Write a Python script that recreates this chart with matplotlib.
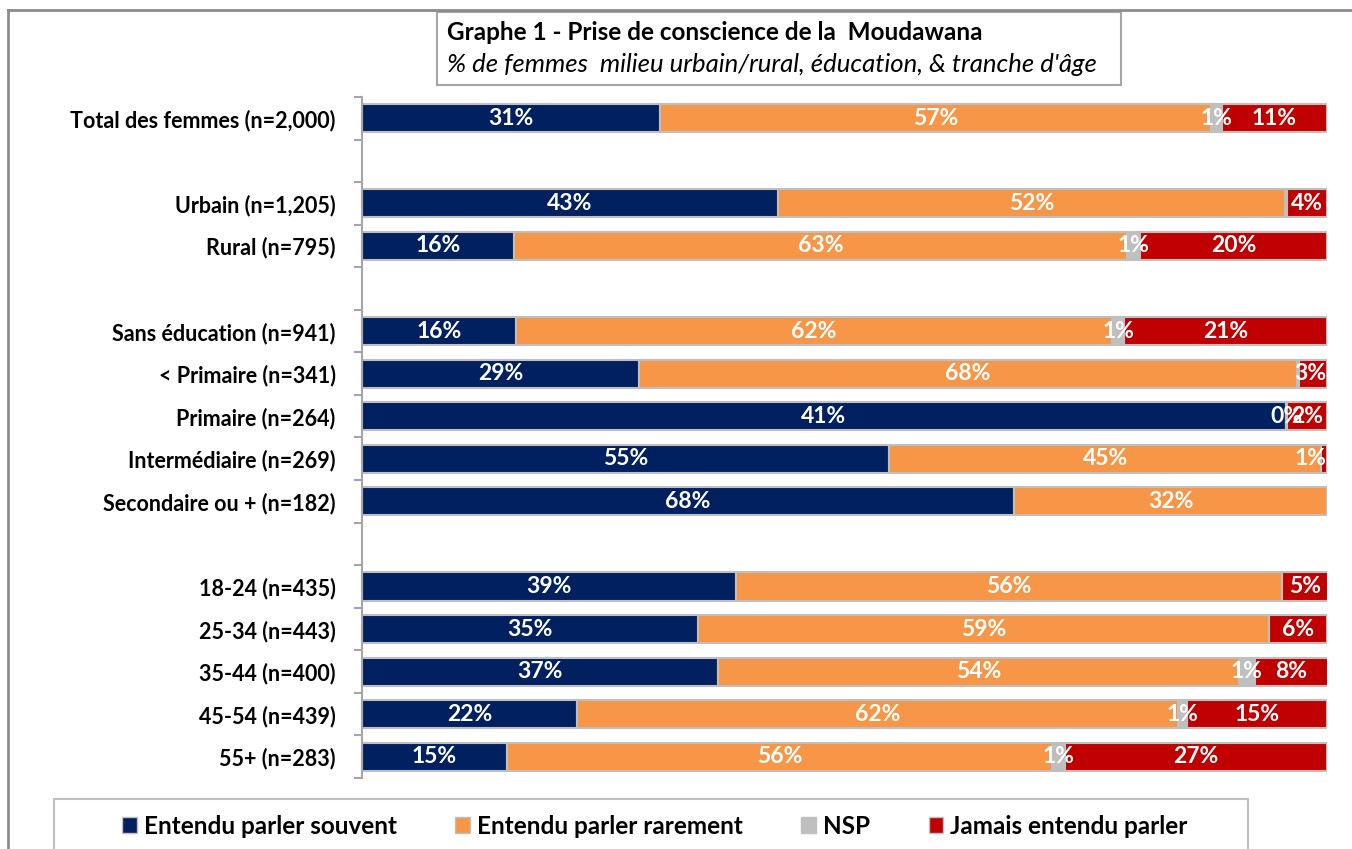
import matplotlib
matplotlib.use("Agg")
import matplotlib.pyplot as plt
from matplotlib.patches import Rectangle
from matplotlib.lines import Line2D

plt.rcParams['font.family'] = ['Lato', 'DejaVu Sans']

# row labels and the slot (0 = top) each one sits in; empty slots are spacers
categories = ["Total des femmes (n=2,000)",
              "Urbain (n=1,205)", "Rural (n=795)",
              "Sans éducation (n=941)", "< Primaire (n=341)", "Primaire (n=264)",
              "Intermédiaire (n=269)", "Secondaire ou + (n=182)",
              "18-24 (n=435)", "25-34 (n=443)", "35-44 (n=400)", "45-54 (n=439)", "55+ (n=283)"]
slots = [0, 2, 3, 5, 6, 7, 8, 9, 11, 12, 13, 14, 15]
n_slots = 16

# segment widths as drawn (percent)
souvent = [30.9, 43.1, 15.8, 16.0, 28.7, 95.7, 54.6, 67.6, 38.8, 34.8, 36.9, 22.3, 15.0]
rarement = [57.1, 52.5, 63.5, 61.7, 68.2, 0.0, 44.8, 32.4, 56.5, 59.2, 54.0, 62.3, 56.5]
nsp = [1.1, 0.3, 1.3, 1.3, 0.2, 0.2, 0.0, 0.0, 0.0, 0.0, 1.6, 0.9, 1.3]
jamais = [10.9, 4.1, 19.4, 21.0, 2.9, 4.1, 0.6, 0.0, 4.8, 6.0, 7.6, 14.5, 27.2]

# data labels as printed on the chart
souvent_lbl = ["31%", "43%", "16%", "16%", "29%", "41%", "55%", "68%", "39%", "35%", "37%", "22%", "15%"]
rarement_lbl = ["57%", "52%", "63%", "62%", "68%", "", "45%", "32%", "56%", "59%", "54%", "62%", "56%"]
nsp_lbl = ["1%", "", "1%", "1%", "", "0%", "", "", "", "", "1%", "1%", "1%"]
jamais_lbl = ["11%", "4%", "20%", "21%", "3%", "2%", "1%", "", "5%", "6%", "8%", "15%", "27%"]

series = [("Entendu parler souvent", souvent, souvent_lbl, "#002060"),
          ("Entendu parler rarement", rarement, rarement_lbl, "#F79646"),
          ("NSP", nsp, nsp_lbl, "#BFBFBF"),
          ("Jamais entendu parler", jamais, jamais_lbl, "#C00000")]

fig = plt.figure(figsize=(13.52, 8.49), dpi=100)
W, H = 1352, 849
ax = fig.add_axes([362 / W, 1 - 778 / H, 965 / W, 681 / H])

y = [s + 0.5 for s in slots]
left = [0.0] * len(categories)
handles = []
for name, vals, lbls, col in series:
    ax.barh(y, vals, left=left, height=0.66, color=col,
            edgecolor="#BFBFBF", linewidth=1.5, label=name)
    handles.append(Rectangle((0, 0), 1, 1, facecolor=col, edgecolor="#BFBFBF", linewidth=1))
    for i, (v, lb) in enumerate(zip(vals, lbls)):
        if lb:
            cx = min(left[i] + v / 2, 98.3)
            ax.text(cx, y[i], lb, ha="center", va="center", color="white",
                    fontsize=16.5, fontweight="bold")
    left = [l + v for l, v in zip(left, vals)]

ax.set_xlim(0, 100)
ax.set_ylim(n_slots, 0)
ax.set_xticks([])
for sp in ["top", "right", "bottom"]:
    ax.spines[sp].set_visible(False)
ax.spines["left"].set_color("#A6A6A6")
ax.spines["left"].set_linewidth(1.5)
ax.set_yticks(range(n_slots + 1))
ax.set_yticklabels([])
ax.tick_params(axis="y", which="major", length=6, width=1.5, color="#A6A6A6", direction="out")
ax.set_yticks(y, minor=True)
ax.set_yticklabels(categories, minor=True, fontsize=15.5, fontweight="bold")
ax.tick_params(axis="y", which="minor", length=0, pad=19)

# outer frame lines
fig.add_artist(Line2D([8 / W, 1], [1 - 10 / H, 1 - 10 / H], color="#8C8C8C", lw=2))
fig.add_artist(Line2D([8 / W, 8 / W], [1 - 10 / H, 0], color="#8C8C8C", lw=2))

# title box
fig.add_artist(Rectangle((437 / W, 1 - 85 / H), 684 / W, 73 / H, transform=fig.transFigure,
                         facecolor="white", edgecolor="#A6A6A6", linewidth=1.5))
fig.text(447 / W, 1 - 33 / H, "Graphe 1 - Prise de conscience de la  Moudawana",
         fontsize=17.5, fontweight="bold", va="center", ha="left")
fig.text(447 / W, 1 - 64 / H, "% de femmes  milieu urbain/rural, éducation, & tranche d'âge",
         fontsize=18.5, style="italic", va="center", ha="left")

# legend box
fig.add_artist(Rectangle((54 / W, -0.05), 1194 / W, 0.05 + 1 - 799 / H, transform=fig.transFigure,
                         facecolor="white", edgecolor="#BFBFBF", linewidth=1.5))
fig.legend(handles, [s[0] for s in series], loc="center", bbox_to_anchor=(655 / W, 1 - 826 / H),
           ncol=4, frameon=False, prop={"weight": "bold", "size": 17.5},
           handlelength=0.6, handleheight=0.6, handletextpad=0.3, columnspacing=2.4)

fig.savefig("out.png", dpi=100)
